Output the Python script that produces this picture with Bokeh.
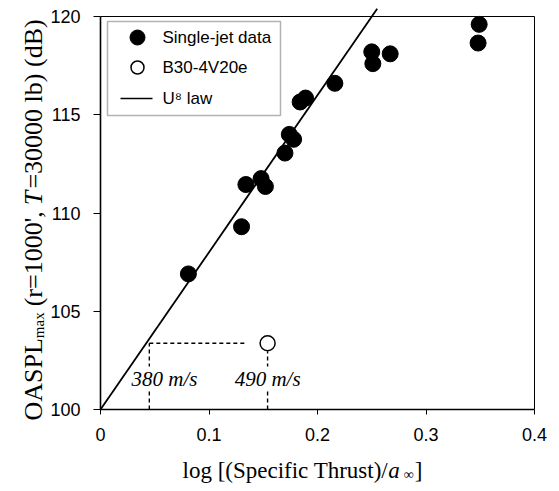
import math
from bokeh.plotting import figure
from bokeh.models import Range1d, FixedTicker, Label, BoxAnnotation
from bokeh.embed import file_html
from bokeh.resources import INLINE

# ---------------- data ----------------
single_x = [0.081, 0.130, 0.134, 0.148, 0.152, 0.170, 0.174, 0.178, 0.184, 0.189,
            0.216, 0.250, 0.251, 0.267, 0.349, 0.348]
single_y = [106.9, 109.3, 111.45, 111.75, 111.35, 113.05, 114.0, 113.75, 115.65, 115.85,
            116.6, 118.2, 117.6, 118.1, 119.6, 118.65]
b30_x = [0.154]
b30_y = [103.37]
law_x = [0.0, 0.255]
law_y = [100.0, 120.4]
ref_x = [0.045, 0.154]
ref_labels = ["380 m/s", "490 m/s"]
x_ticks = [0, 0.1, 0.2, 0.3, 0.4]
x_tick_labels = ["0", "0.1", "0.2", "0.3", "0.4"]
y_ticks = [100, 105, 110, 115, 120]
legend_labels = ["Single-jet data", "B30-4V20e", "U\u2078 law"]

# ---------------- layout (page pixels) ----------------
W, H = 559, 491
FL, FR, FT, FB = 100, 534, 16, 409      # plot box on the page
X0, X1 = 0.0, 0.4
Y0, Y1 = 100.0, 120.0
XPU = (FR - FL) / (X1 - X0)
YPU = (FB - FT) / (Y1 - Y0)


def dx(px):
    return X0 + (px - FL) / XPU


def dy(py):
    return Y0 + (FB - py) / YPU


SERIF = "Liberation Serif"
SANS = "Liberation Sans"

TW = {' ': 250, '(': 333, ')': 333, '[': 333, ']': 333, '/': 278, '=': 564, "'": 180, ',': 250,
      'O': 722, 'A': 722, 'S': 556, 'P': 556, 'L': 611, 'T': 611, 'B': 667,
      'a': 444, 'b': 500, 'c': 444, 'd': 500, 'e': 444, 'f': 333, 'g': 500, 'h': 500, 'i': 278,
      'l': 278, 'm': 778, 'o': 500, 'p': 500, 'r': 333, 's': 389, 't': 278, 'u': 500, 'x': 500,
      '\u221e': 713}


def tw(s, size):
    return sum(TW.get(c, 500) for c in s) * size / 1000.0


p = figure(width=W, height=H, x_range=Range1d(dx(0), dx(W)), y_range=Range1d(dy(H), dy(0)),
           output_backend="svg", toolbar_location=None, title=None,
           min_border_left=0, min_border_right=0, min_border_top=0, min_border_bottom=0)
p.outline_line_color = None
p.grid.visible = False
p.background_fill_color = "white"
p.border_fill_color = "white"

p.xaxis.fixed_location = Y0
p.yaxis.fixed_location = X0
p.xaxis.ticker = FixedTicker(ticks=x_ticks)
p.xaxis.major_label_overrides = {t: l for t, l in zip(x_ticks, x_tick_labels)}
p.yaxis.ticker = FixedTicker(ticks=y_ticks)
p.xaxis.bounds = (X0, X1)
p.yaxis.bounds = (Y0, Y1)
for ax in (p.xaxis[0], p.yaxis[0]):
    ax.axis_line_width = 1.6
    ax.axis_line_color = "black"
    ax.major_tick_in = 0
    ax.major_tick_line_color = "black"
    ax.major_tick_line_width = 1
    ax.minor_tick_line_color = None
    ax.major_label_text_font = SANS
    ax.major_label_text_font_size = "18px"
    ax.major_label_text_color = "black"
p.xaxis.major_tick_out = 5
p.yaxis.major_tick_out = 7
p.xaxis.major_label_standoff = 13
p.yaxis.major_label_standoff = 13

# plot box top / right
p.segment(x0=[X0, X1], y0=[Y1, Y0], x1=[X1, X1], y1=[Y1, Y1], line_color="black", line_width=1)

# U^8 law
p.line(law_x, law_y, line_color="black", line_width=1.8)

# reference dashed lines
p.line([ref_x[0], b30_x[0] - 0.02], [b30_y[0], b30_y[0]], line_color="black", line_width=1.4, line_dash="4 3")
p.line([ref_x[0], ref_x[0]], [Y0, b30_y[0]], line_color="black", line_width=1.4, line_dash="4 3")
p.line([ref_x[1], ref_x[1]], [Y0, b30_y[0] - 0.4], line_color="black", line_width=1.4, line_dash="4 3")

# data
p.scatter(single_x, single_y, size=16, fill_color="black", line_color="black")
p.scatter(b30_x, b30_y, size=15, fill_color="white", line_color="black", line_width=1.5)

# speed labels
p.add_layout(Label(x=dx(131), y=dy(378), text=ref_labels[0], text_font=SERIF, text_font_style="italic",
                   text_font_size="21px", text_align="left", text_baseline="middle",
                   text_color="black", background_fill_color="white"))
p.add_layout(Label(x=ref_x[1], y=dy(378), text=ref_labels[1], text_font=SERIF, text_font_style="italic",
                   text_font_size="21px", text_align="center", text_baseline="middle",
                   text_color="black", background_fill_color="white"))

# legend (drawn by hand)
p.add_layout(BoxAnnotation(left=dx(107), right=dx(280), top=dy(21), bottom=dy(115),
                           fill_color="white", fill_alpha=1, line_color="black", line_width=1.5,
                           level="underlay"))
p.scatter([dx(137)], [dy(37)], size=15, fill_color="black", line_color="black")
p.scatter([dx(137)], [dy(67)], size=13, fill_color="white", line_color="black", line_width=1.5)
p.line([dx(120), dx(152)], [dy(98), dy(98)], line_color="black", line_width=1.6)
for lab, sy in zip(legend_labels, [37, 67, 98]):
    p.add_layout(Label(x=dx(162), y=dy(sy), text=lab, text_font=SANS, text_font_size="17px",
                       text_align="left", text_baseline="middle", text_color="black"))

# x axis title: (text, size, style, gap before, baseline drop)
xs, xb = 182, 470
pieces = [("log [(Specific Thrust)/", 23, "normal", 0, 0),
          ("a", 23, "italic", 0, 0),
          ("\u221e", 14, "normal", 4, 4),
          ("]", 23, "normal", 1, 0)]
cur = xs
for txt, fs, st, gap, drop in pieces:
    cur += gap
    p.add_layout(Label(x=dx(cur), y=dy(xb + drop), text=txt, text_font=SERIF, text_font_style=st,
                       text_font_size=f"{fs}px", text_align="left", text_baseline="alphabetic",
                       text_color="black"))
    cur += tw(txt, fs) if st == "normal" else fs * 0.5

# y axis title (rotated)
yb, ys = 33, 420
pieces = [("OASPL", 26, "normal", 0, 0),
          ("max", 15, "normal", 0, 5),
          ("(r=1000',", 26, "normal", 6, 0),
          ("T", 26, "italic", 6, 0),
          ("=30000 lb) (dB)", 26, "normal", 1, 0)]
cur = ys
for txt, fs, st, gap, drop in pieces:
    cur -= gap
    p.add_layout(Label(x=dx(yb + drop), y=dy(cur), text=txt, text_font=SERIF, text_font_style=st,
                       text_font_size=f"{fs}px", text_align="left", text_baseline="alphabetic",
                       angle=math.pi / 2, text_color="black"))
    cur -= tw(txt, fs) if st == "normal" else fs * 0.6

open("out.html", "w").write(file_html(p, INLINE))
